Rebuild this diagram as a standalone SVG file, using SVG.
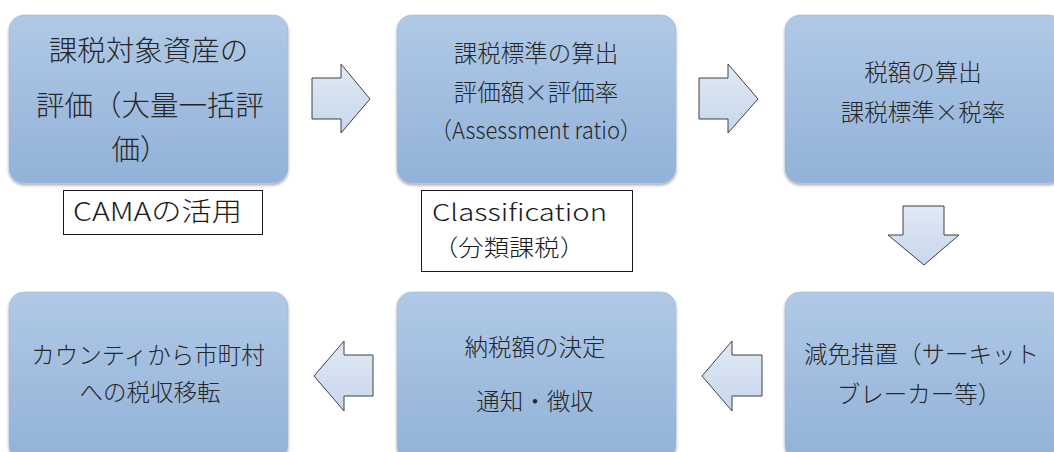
<svg xmlns="http://www.w3.org/2000/svg" width="1054" height="452" viewBox="0 0 1054 452">
<defs>
<linearGradient id="boxg" x1="0" y1="0" x2="0" y2="1">
<stop offset="0" stop-color="#b0c9e6"/>
<stop offset="1" stop-color="#92b2d9"/>
</linearGradient>
<linearGradient id="arrg" x1="0" y1="0" x2="0" y2="1">
<stop offset="0" stop-color="#e0e9f5"/>
<stop offset="1" stop-color="#c8d7ec"/>
</linearGradient>
<filter id="sh" x="-10%" y="-10%" width="120%" height="120%">
<feGaussianBlur in="SourceAlpha" stdDeviation="1.5"/>
<feOffset dx="0" dy="1.5" result="b"/>
<feComponentTransfer><feFuncA type="linear" slope="0.35"/></feComponentTransfer>
<feMerge><feMergeNode/><feMergeNode in="SourceGraphic"/></feMerge>
</filter>
</defs>
<style>
.box{fill:url(#boxg);stroke:#9fb9dc;stroke-width:0.6;filter:url(#sh)}
.arr{fill:url(#arrg);stroke:#404040;stroke-width:1}
.t{font-family:"Noto Sans CJK JP","Noto Sans",sans-serif;font-weight:300;fill:#262626;text-anchor:middle;font-size:23.5px}
.big{font-size:28.5px}
.lab{fill:#ffffff;stroke:#1a1a1a;stroke-width:1}
.tl{font-family:"Noto Sans CJK JP","Noto Sans",sans-serif;font-weight:300;fill:#1a1a1a;font-size:26px}
.tls{font-size:23px}
</style>
<rect width="1054" height="452" fill="#ffffff"/>
<g id="node1">
<rect class="box" x="9" y="15" width="279" height="168" rx="15"/>
<text class="t big" x="148.5" y="61">課税対象資産の</text>
<text class="t big" x="150" y="116">評価（大量一括評</text>
<text class="t big" x="140" y="160">価）</text>
</g>
<g id="node2">
<rect class="box" x="397" y="15" width="279" height="168" rx="15"/>
<text class="t" x="536" y="62">課税標準の算出</text>
<text class="t" x="536" y="101">評価額×評価率</text>
<text class="t" x="536" y="139" textLength="212" lengthAdjust="spacingAndGlyphs">（Assessment ratio）</text>
</g>
<g id="node3">
<rect class="box" x="785" y="15" width="279" height="168" rx="15"/>
<text class="t" x="923" y="81">税額の算出</text>
<text class="t" x="923" y="121">課税標準×税率</text>
</g>
<g id="node4">
<rect class="box" x="9" y="292" width="279" height="168" rx="15"/>
<text class="t" x="148" y="364">カウンティから市町村</text>
<text class="t" x="150" y="401">への税収移転</text>
</g>
<g id="node5">
<rect class="box" x="397" y="292" width="279" height="168" rx="15"/>
<text class="t" x="535" y="356">納税額の決定</text>
<text class="t" x="535" y="410">通知・徴収</text>
</g>
<g id="node6">
<rect class="box" x="785" y="292" width="279" height="168" rx="15"/>
<text class="t" x="921.5" y="363">減免措置（サーキット</text>
<text class="t" x="919" y="403">ブレーカー等）</text>
</g>
<g id="label-cama">
<rect class="lab" x="63.5" y="190.5" width="199" height="44"/>
<text class="tl" x="73" y="221" textLength="169" lengthAdjust="spacingAndGlyphs">CAMAの活用</text>
</g>
<g id="label-classification">
<rect class="lab" x="421.5" y="190.5" width="211" height="81"/>
<text class="tl tls" x="432" y="221" textLength="175" lengthAdjust="spacingAndGlyphs">Classification</text>
<text class="tl tls" x="433" y="256" textLength="152" lengthAdjust="spacingAndGlyphs">（分類課税）</text>
</g>
<g id="connectors">
<polygon class="arr" points="312,78 341,78 341,64 370,99 341,133 341,119 312,119"/>
<polygon class="arr" points="699,78 728,78 728,64 758,99 728,133 728,119 699,119"/>
<polygon class="arr" points="903,206 944,206 944,235 959,235 924,265 888,235 903,235"/>
<polygon class="arr" points="762,355 732,355 732,341 702,376 732,411 732,396 762,396"/>
<polygon class="arr" points="373,355 344,355 344,341 314,376 344,411 344,396 373,396"/>
</g>
</svg>
